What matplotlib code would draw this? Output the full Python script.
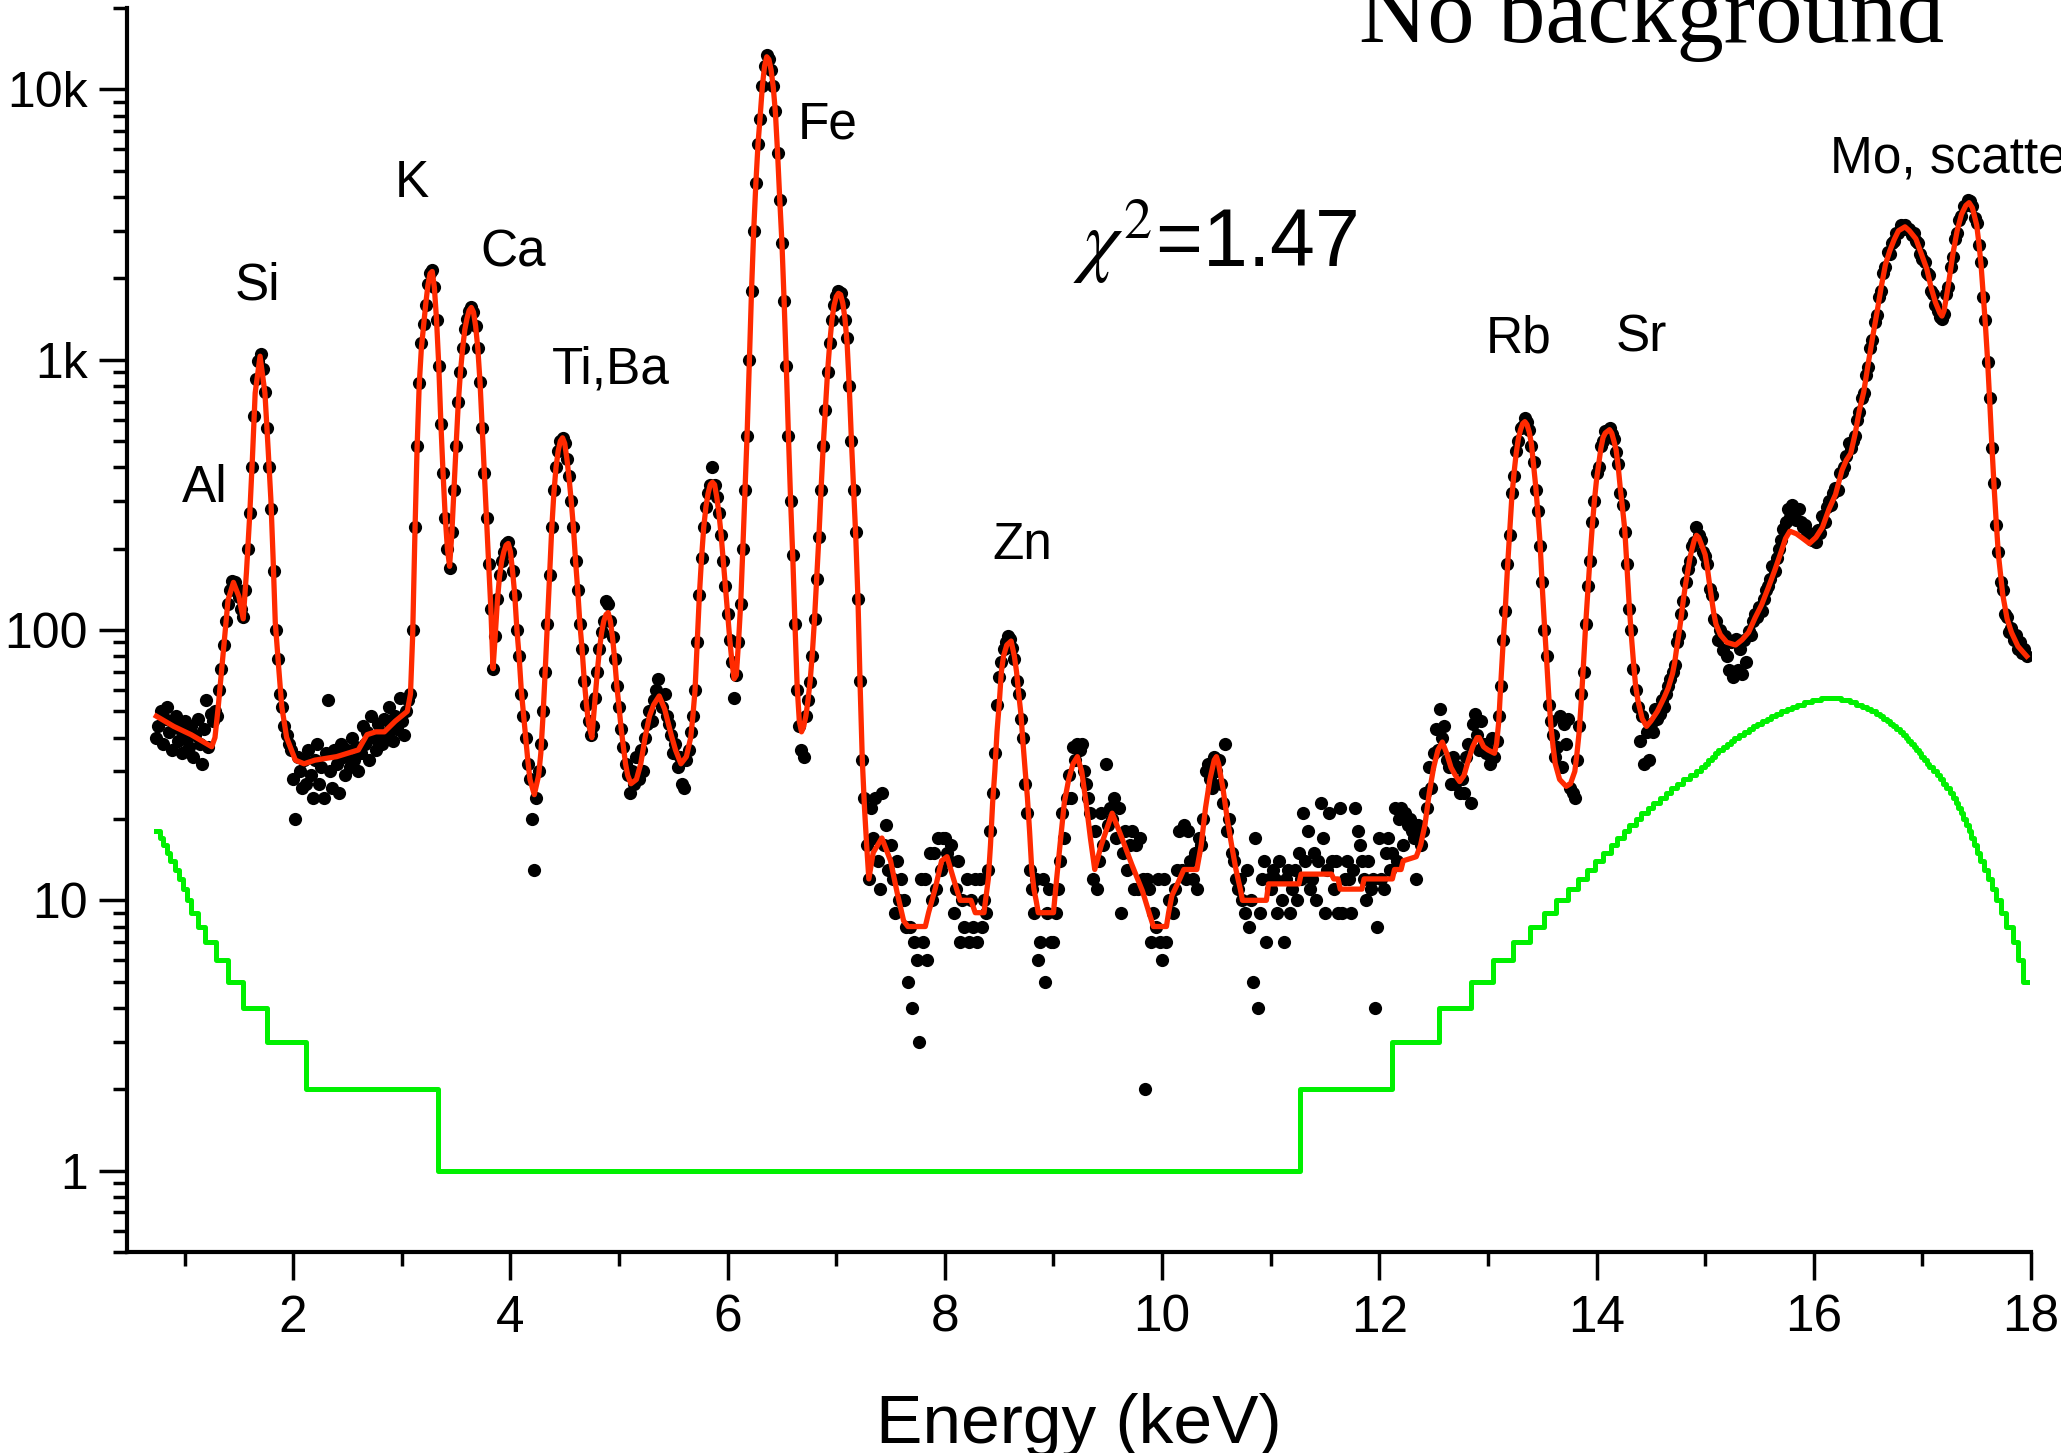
import numpy as np
import matplotlib
matplotlib.use("Agg")
import matplotlib.pyplot as plt
from matplotlib import font_manager
from matplotlib.ticker import FixedLocator, FixedFormatter, LogLocator, NullFormatter

# measured spectrum, 20 eV channels starting at 0.74 keV
counts = [
    40, 44, 50, 38, 47, 52, 42, 36, 45, 48, 39, 43, 35,  # 0.74
    46, 40, 37, 44, 34, 41, 47, 38, 32, 43, 55, 37, 49, 46, 50, 48, 60, 72, 88, 108,  # 1.00
    125, 140, 152, 150, 140, 132, 120, 112, 140, 200, 270, 400, 620, 850, 990, 1050, 920, 760, 560, 400,
    280, 165, 100, 78, 58, 52, 44, 41, 38, 36,
    28, 20, 34, 30, 26, 33, 27, 36, 29, 24, 33, 38, 27, 31, 24, 35, 55, 30, 26, 36,  # 2.00
    32, 25, 38, 34, 29, 36, 31, 40, 33, 37, 30, 35, 44, 38, 42, 33, 48, 40, 36, 45,
    42, 38, 47, 41, 52, 44, 39, 48, 43, 56,
    46, 41, 50, 55, 58, 100, 240, 480, 820, 1150, 1350, 1600, 1900, 2100, 2150, 1850, 1400, 950, 580, 380,  # 3.00
    260, 200, 170, 230, 330, 480, 700, 900, 1100, 1300, 1420, 1520, 1560, 1500, 1330, 1100, 830, 560, 380, 260,
    175, 120, 72, 95, 130, 160, 180, 195, 208, 212,
    195, 165, 135, 100, 80, 58, 48, 40, 32, 28, 20, 13, 24, 30, 38, 50, 70, 105, 160, 240,  # 4.00
    330, 400, 460, 500, 515, 490, 430, 370, 300, 240, 180, 140, 105, 85, 65, 53, 46, 41, 44, 56,
    70, 85, 98, 108, 128, 125, 108, 94, 78, 62,
    52, 43, 37, 32, 29, 25, 30, 27, 34, 28, 36, 30, 40, 45, 50, 46, 55, 60, 66, 57,  # 5.00
    52, 58, 48, 45, 41, 35, 38, 31, 34, 27, 26, 33, 36, 42, 48, 60, 90, 135, 185, 240,
    285, 320, 345, 400, 345, 310, 270, 225, 180, 145,
    115, 92, 76, 56, 68, 90, 125, 200, 330, 520, 1000, 1800, 3000, 4500, 6300, 7800, 10300, 12200, 13400, 12900,  # 6.00
    11800, 10300, 8300, 5800, 3900, 2700, 1650, 950, 520, 300, 190, 105, 60, 44, 36, 34, 48, 55, 64, 80,
    110, 155, 220, 330, 480, 650, 900, 1150, 1400, 1600,
    1720, 1800, 1760, 1620, 1400, 1200, 800, 500, 330, 230, 130, 65, 33, 24, 16, 12, 22, 17, 24, 14,  # 7.00
    11, 25, 16, 19, 13, 16, 12, 9, 14, 10, 12, 10, 8, 5, 8, 4, 7, 6, 3, 12,
    7, 12, 6, 15, 10, 15, 11, 17, 13, 17,
    17, 15, 14, 16, 9, 11, 14, 7, 10, 8, 12, 7, 10, 8, 12, 7, 12, 8, 10, 9,  # 8.00
    13, 18, 25, 35, 53, 67, 76, 85, 90, 95, 93, 86, 78, 65, 58, 47, 40, 27, 21, 13,
    11, 9, 12, 6, 7, 12, 5, 9, 11, 7,
    7, 9, 11, 14, 21, 17, 24, 29, 24, 37, 33, 38, 36, 38, 30, 27, 24, 21, 12, 18,  # 9.00
    11, 14, 21, 16, 32, 19, 22, 20, 24, 17, 22, 9, 15, 18, 13, 16, 18, 11, 16, 11,
    17, 12, 2, 12, 11, 7, 9, 8, 12, 7,
    6, 12, 7, 10, 10, 9, 11, 13, 18, 13, 19, 12, 18, 14, 12, 15, 11, 17, 16, 20,  # 10.00
    30, 32, 28, 26, 34, 30, 33, 27, 23, 38, 18, 20, 15, 14, 12, 11, 12, 10, 9, 13,
    8, 10, 5, 17, 4, 9, 12, 14, 7, 12,
    11, 13, 12, 9, 14, 10, 7, 12, 13, 9, 11, 13, 10, 15, 12, 21, 14, 18, 11, 12,  # 11.00
    15, 10, 14, 23, 17, 9, 13, 21, 14, 11, 14, 9, 22, 9, 12, 14, 12, 9, 13, 22,
    18, 16, 14, 12, 10, 14, 11, 12, 4, 8,
    17, 12, 11, 15, 17, 13, 15, 22, 14, 20, 22, 16, 21, 19, 20, 18, 17, 12, 19, 16,  # 12.00
    18, 25, 22, 31, 26, 35, 43, 36, 51, 40, 44, 33, 31, 27, 34, 27, 31, 25, 28, 25,
    34, 38, 23, 45, 49, 41, 36, 46, 38, 35,
    36, 32, 40, 34, 39, 48, 62, 92, 118, 175, 225, 320, 370, 460, 500, 560, 570, 610, 590, 550,  # 13.00
    480, 420, 330, 275, 205, 150, 100, 80, 53, 46, 41, 34, 37, 48, 31, 45, 38, 47, 26, 25,
    24, 33, 44, 58, 70, 105, 145, 180, 250, 300,
    380, 400, 480, 500, 545, 540, 560, 530, 510, 455, 410, 320, 290, 230, 175, 120, 100, 72, 60, 52,  # 14.00
    39, 48, 32, 42, 33, 45, 42, 51, 47, 49, 55, 52, 58, 62, 66, 70, 74, 90, 96, 115,
    128, 150, 168, 180, 205, 212, 240, 225, 215, 195,
    188, 175, 142, 135, 110, 108, 92, 100, 84, 95, 80, 71, 90, 67, 93, 71, 85, 69, 92, 76,  # 15.00
    99, 96, 108, 115, 112, 122, 118, 130, 140, 146, 155, 173, 165, 185, 199, 215, 236, 250, 281, 262,
    290, 270, 255, 281, 250, 240, 245, 225, 228, 215,
    222, 212, 235, 228, 265, 250, 285, 300, 290, 320, 335, 330, 380, 385, 400, 440, 490, 470, 500, 520,  # 16.00
    600, 640, 720, 750, 880, 940, 1100, 1180, 1380, 1460, 1700, 1800, 2100, 2200, 2500, 2450, 2700, 2750, 2950, 2950,
    3150, 3050, 3150, 3050, 3050, 2900, 2950, 2750, 2700, 2450,
    2350, 2300, 2100, 2050, 1800, 1750, 1600, 1520, 1440, 1420, 1480, 1750, 1850, 2200, 2400, 2800, 2950, 3300, 3400, 3700,  # 17.00
    3750, 3900, 3850, 3700, 3350, 3200, 2650, 2300, 1700, 1400, 980, 720, 470, 350, 245, 195, 150, 140, 115, 112,
    98, 102, 92, 96, 85, 90, 82, 85, 80,
]

# fitted curve (red)
fit_e = [0.74, 0.90, 1.06, 1.20, 1.25, 1.28, 1.31, 1.34, 1.37, 1.40, 1.45, 1.50, 1.54, 1.57, 1.60, 1.625, 1.65, 1.695,
         1.74, 1.77, 1.795, 1.815, 1.835, 1.865, 1.895, 1.94, 2.02, 2.10, 2.20, 2.40, 2.60, 2.68, 2.76, 2.84, 2.94,
         3.05, 3.08, 3.10, 3.12, 3.14, 3.16, 3.18, 3.20, 3.22, 3.24, 3.26, 3.28, 3.30, 3.32, 3.34, 3.36, 3.38, 3.40,
         3.42, 3.44, 3.46, 3.48, 3.50, 3.52, 3.54, 3.56, 3.58, 3.60, 3.62, 3.64, 3.66, 3.68, 3.70, 3.72, 3.74, 3.76,
         3.78, 3.80, 3.82, 3.84, 3.86, 3.88, 3.90, 3.92, 3.94, 3.96, 3.98, 4.00, 4.02, 4.04, 4.06, 4.08, 4.10, 4.12,
         4.14, 4.16, 4.18, 4.22, 4.26, 4.28, 4.30, 4.32, 4.34, 4.36, 4.38, 4.40, 4.42, 4.44, 4.46, 4.48, 4.50, 4.52,
         4.54, 4.56, 4.58, 4.60, 4.62, 4.64, 4.66, 4.68, 4.70, 4.72, 4.75, 4.78, 4.80, 4.82, 4.84, 4.86, 4.88, 4.90,
         4.92, 4.94, 4.96, 4.98, 5.00, 5.02, 5.04, 5.06, 5.08, 5.11, 5.16, 5.20, 5.24, 5.28, 5.32, 5.37, 5.42, 5.48,
         5.52, 5.57, 5.62, 5.66, 5.68, 5.70, 5.72, 5.74, 5.76, 5.78, 5.80, 5.82, 5.84, 5.86, 5.88, 5.90, 5.92, 5.94,
         5.96, 5.98, 6.00, 6.02, 6.04, 6.06, 6.08, 6.10, 6.12, 6.14, 6.16, 6.18, 6.20, 6.22, 6.24, 6.26, 6.28, 6.30,
         6.32, 6.34, 6.36, 6.38, 6.40, 6.42, 6.44, 6.46, 6.48, 6.50, 6.52, 6.54, 6.56, 6.58, 6.60, 6.62, 6.64, 6.66,
         6.68, 6.70, 6.72, 6.74, 6.76, 6.78, 6.80, 6.82, 6.84, 6.86, 6.88, 6.90, 6.92, 6.94, 6.96, 6.98, 7.00, 7.02,
         7.04, 7.06, 7.08, 7.10, 7.12, 7.14, 7.16, 7.18, 7.20, 7.22, 7.24, 7.26, 7.28, 7.30, 7.34, 7.42, 7.50, 7.56,
         7.62, 7.66, 7.82, 7.85, 7.91, 7.97, 8.02, 8.08, 8.14, 8.24, 8.28, 8.36, 8.40, 8.42, 8.44, 8.46, 8.48, 8.50,
         8.52, 8.54, 8.57, 8.61, 8.64, 8.66, 8.68, 8.70, 8.72, 8.74, 8.76, 8.78, 8.80, 8.82, 8.84, 8.86, 9.00, 9.02,
         9.06, 9.10, 9.14, 9.18, 9.22, 9.26, 9.30, 9.34, 9.38, 9.44, 9.54, 9.63, 9.72, 9.82, 9.88, 9.92, 10.04, 10.06,
         10.09, 10.15, 10.20, 10.32, 10.36, 10.40, 10.44, 10.48, 10.50, 10.52, 10.56, 10.60, 10.64, 10.68, 10.72,
         10.74, 10.96, 10.98, 11.26, 11.28, 11.56, 11.58, 11.62, 11.64, 11.84, 11.86, 12.12, 12.14, 12.20, 12.22,
         12.34, 12.38, 12.42, 12.46, 12.50, 12.54, 12.58, 12.62, 12.66, 12.70, 12.74, 12.78, 12.82, 12.86, 12.90,
         12.92, 12.96, 13.00, 13.06, 13.08, 13.10, 13.12, 13.14, 13.16, 13.18, 13.20, 13.22, 13.24, 13.26, 13.28,
         13.30, 13.32, 13.34, 13.36, 13.38, 13.40, 13.42, 13.44, 13.46, 13.48, 13.50, 13.52, 13.54, 13.56, 13.58,
         13.60, 13.62, 13.66, 13.72, 13.76, 13.80, 13.82, 13.84, 13.86, 13.88, 13.90, 13.92, 13.94, 13.96, 13.98,
         14.00, 14.02, 14.04, 14.06, 14.08, 14.12, 14.14, 14.16, 14.18, 14.20, 14.22, 14.24, 14.26, 14.28, 14.30,
         14.32, 14.34, 14.36, 14.38, 14.42, 14.46, 14.50, 14.56, 14.62, 14.66, 14.70, 14.72, 14.74, 14.76, 14.78,
         14.80, 14.82, 14.84, 14.86, 14.88, 14.90, 14.92, 14.94, 14.96, 14.98, 15.00, 15.02, 15.04, 15.06, 15.08,
         15.10, 15.14, 15.20, 15.28, 15.34, 15.40, 15.46, 15.52, 15.58, 15.64, 15.70, 15.74, 15.78, 15.84, 15.90,
         15.96, 16.02, 16.08, 16.14, 16.20, 16.26, 16.30, 16.34, 16.38, 16.42, 16.46, 16.50, 16.54, 16.58, 16.62,
         16.66, 16.70, 16.74, 16.78, 16.84, 16.88, 16.94, 17.00, 17.04, 17.08, 17.12, 17.16, 17.18, 17.20, 17.24,
         17.28, 17.32, 17.36, 17.40, 17.43, 17.46, 17.50, 17.52, 17.54, 17.56, 17.58, 17.60, 17.62, 17.64, 17.66,
         17.68, 17.70, 17.74, 17.78, 17.82, 17.88, 17.96]
fit_v = [48, 44, 41, 38, 37, 40, 52, 70, 95, 129, 150, 133, 110, 164, 267, 435, 753, 1030,
         753, 462, 302, 185, 107, 74, 52, 40, 33, 32, 33, 34, 36, 41, 42, 42, 46,
         50, 58, 95, 220, 460, 800, 1100, 1330, 1600, 1880, 2080, 2120, 1850, 1400, 960, 580, 380, 262,
         200, 172, 225, 330, 480, 690, 900, 1100, 1290, 1420, 1520, 1560, 1500, 1330, 1100, 830, 560, 380,
         260, 175, 120, 72, 95, 128, 158, 180, 195, 206, 209, 195, 165, 135, 100, 80, 60, 49,
         40, 33, 28, 24.6, 29, 35, 48, 70, 105, 160, 235, 320, 400, 460, 500, 514, 490, 430,
         365, 300, 240, 180, 140, 105, 85, 65, 53, 45, 40, 56, 70, 85, 98, 108, 114, 116,
         108, 94, 78, 62, 52, 43, 37, 32, 29, 27, 28, 32, 40, 48, 53, 57, 51, 41,
         36, 32, 34, 40, 48, 60, 90, 135, 185, 240, 285, 320, 345, 352, 345, 310, 270, 225,
         180, 145, 115, 92, 76, 66, 68, 90, 125, 200, 330, 540, 1000, 1800, 3000, 4500, 6300, 8000,
         10300, 12200, 13200, 12900, 11800, 10200, 8200, 5800, 3900, 2700, 1650, 950, 520, 300, 185, 105, 62, 46,
         42, 44, 48, 55, 65, 82, 110, 155, 220, 330, 480, 660, 900, 1150, 1400, 1590, 1710, 1760,
         1740, 1620, 1420, 1150, 790, 500, 330, 220, 130, 62, 33, 22, 16, 12, 15, 17, 14, 10.7,
         8.4, 8, 8, 9, 11, 14, 14.5, 12, 10, 10, 9, 9, 12, 16, 23, 30, 42, 53,
         70, 80, 88, 91, 80, 70, 58, 49, 38, 30, 24, 18, 13, 11, 10, 9, 9, 11,
         16, 23, 28, 32, 34, 30, 23, 17, 13, 16, 21, 17, 13.6, 10.8, 9, 8, 8, 9,
         10.4, 11.7, 13, 13, 16, 22, 28, 33, 34, 32, 26, 20, 16, 13, 11,
         10, 10, 11.5, 11.5, 12.5, 12.5, 12, 12, 11, 11, 12, 12, 13, 13, 14,
         14.5, 16, 19, 25, 31, 36, 38.5, 35, 31, 29, 27.5, 29, 33, 37, 40,
         40, 37, 36, 35, 38, 46, 65, 90, 120, 170, 230, 310, 380, 450, 510,
         550, 580, 590, 575, 540, 490, 410, 340, 270, 210, 145, 105, 78, 57, 44,
         37, 32, 28, 26.4, 27, 30, 35, 42, 55, 75, 105, 140, 185, 240, 300,
         360, 410, 470, 515, 535, 551, 535, 500, 464, 400, 330, 280, 235, 170, 125,
         96, 76, 62, 55, 47, 44, 46, 50, 56, 61, 69, 76, 87, 98, 112,
         130, 148, 165, 185, 200, 215, 224, 220, 210, 200, 190, 170, 148, 130, 115,
         105, 96, 90, 88, 92, 98, 111, 124, 143, 166, 195, 218, 232, 227, 218,
         209, 220, 240, 280, 317, 390, 425, 450, 530, 650, 760, 960, 1200, 1480, 1850,
         2250, 2530, 2780, 3000, 3100, 3000, 2800, 2400, 2170, 1850, 1630, 1490, 1450, 1520, 1900,
         2450, 3000, 3450, 3720, 3810, 3650, 3150, 2700, 2250, 1750, 1350, 1000, 700, 480, 340,
         250, 190, 135, 110, 98, 87, 80]

# background (green), integer steps: level starts at bg_e[i]
bg_e = [0.74, 0.77, 0.80, 0.84, 0.87, 0.91, 0.95, 0.99, 1.02, 1.06, 1.12, 1.19, 1.29, 1.40, 1.54, 1.76, 2.12,
        3.33, 11.27, 12.12, 12.55, 12.84, 13.05, 13.23, 13.39, 13.52, 13.63, 13.735, 13.83, 13.91, 13.99,
        14.06, 14.13, 14.19, 14.25, 14.30, 14.36, 14.41, 14.47, 14.52, 14.58, 14.64, 14.69, 14.74, 14.80,
        14.86, 14.92, 14.96, 15.00, 15.03, 15.06, 15.09, 15.12, 15.16, 15.20, 15.24, 15.27, 15.31, 15.36,
        15.40, 15.44, 15.48, 15.52, 15.57, 15.61, 15.65, 15.70, 15.75, 15.80, 15.85, 15.91, 15.98, 16.07,
        16.25, 16.33, 16.39, 16.44, 16.49, 16.53, 16.57, 16.61, 16.64, 16.67, 16.70, 16.73, 16.76, 16.79,
        16.82, 16.845, 16.87, 16.895, 16.92, 16.945, 16.97, 16.99, 17.015, 17.04, 17.065, 17.10, 17.13,
        17.16, 17.19, 17.22, 17.25, 17.28, 17.31, 17.33, 17.355, 17.375, 17.40, 17.425, 17.45, 17.475,
        17.50, 17.53, 17.565, 17.60, 17.64, 17.68, 17.72, 17.77, 17.83, 17.88, 17.93, 17.96]
bg_v = [18, 17, 16, 15, 14, 13, 12, 11, 10, 9, 8, 7, 6, 5, 4, 3, 2,
        1, 2, 3, 4, 5, 6, 7, 8, 9, 10, 11, 12, 13, 14,
        15, 16, 17, 18, 19, 20, 21, 22, 23, 24, 25, 26, 27, 28,
        29, 30, 31, 32, 33, 34, 35, 36, 37, 38, 39, 40, 41, 42,
        43, 44, 45, 46, 47, 48, 49, 50, 51, 52, 53, 54, 55, 56,
        55, 54, 53, 52, 51, 50, 49, 48, 47, 46, 45, 44, 43, 42,
        41, 40, 39, 38, 37, 36, 35, 34, 33, 32, 31, 30, 29,
        28, 27, 26, 25, 24, 23, 22, 21, 20, 19, 18, 17, 16,
        15, 14, 13, 12, 11, 10, 9, 8, 7, 6, 5, 5]

peak_labels = ["Al", "Si", "K", "Ca", "Ti,Ba", "Fe", "Zn", "Rb", "Sr"]
peak_x = [1.19, 1.67, 3.09, 4.03, 4.92, 6.92, 8.71, 13.28, 14.41]
peak_y = [297, 1665, 3990, 2204, 813, 6607, 183, 1063, 1076]

xticks = [2, 4, 6, 8, 10, 12, 14, 16, 18]
yticks = [1, 10, 100, 1000, 10000]
ytick_labels = ["1", "10", "100", "1k", "10k"]

plt.rcParams['font.family'] = ['Liberation Sans', 'DejaVu Sans']
plt.rcParams['mathtext.fontset'] = 'stix'

installed = {f.name for f in font_manager.fontManager.ttflist}
if 'Liberation Sans Narrow' in installed:
    narrow = ['Liberation Sans Narrow', 'DejaVu Sans']
    xt_size, xl_size = 40, 58
else:
    narrow = ['Liberation Sans', 'DejaVu Sans']
    xt_size, xl_size = 37, 50

fig = plt.figure(figsize=(20.61, 14.53), dpi=100)
ax = fig.add_axes([127 / 2061, 201 / 1453, 1904 / 2061, 1244 / 1453])

energy = 0.74 + 0.02 * np.arange(len(counts))

ax.step(bg_e, bg_v, where='post', color='#00f000', lw=3.6, zorder=2)
ax.plot(energy, counts, 'o', color='black', ms=9.5, mew=0, zorder=3)
ax.plot(fit_e, fit_v, color='#ff2a00', lw=3.8, zorder=4)

ax.set_yscale('log')
ax.set_xlim(0.47, 18.0)
ax.set_ylim(0.5, 2e4)

for side in ['top', 'right']:
    ax.spines[side].set_visible(False)
for side in ['left', 'bottom']:
    ax.spines[side].set_linewidth(3)

ax.set_xticks(xticks, [str(t) for t in xticks], fontsize=xt_size, family=narrow)
ax.set_xticks(list(range(1, 18, 2)), minor=True)
ax.yaxis.set_major_locator(FixedLocator(yticks))
ax.yaxis.set_major_formatter(FixedFormatter(ytick_labels))
ax.yaxis.set_minor_locator(LogLocator(base=10, subs=np.arange(2, 10), numticks=30))
ax.yaxis.set_minor_formatter(NullFormatter())
ax.tick_params(which='major', direction='out', length=20, width=2.5)
ax.tick_params(which='minor', direction='out', length=10, width=2.5)
ax.tick_params(axis='y', labelsize=36, pad=8)
ax.tick_params(axis='x', pad=10)

ax.set_xlabel("Energy (keV)", fontsize=xl_size, family=narrow, labelpad=36)

for lab, x, y in zip(peak_labels, peak_x, peak_y):
    ax.text(x, y, lab, fontsize=37, ha='center', va='baseline')
ax.text(16.15, 4935, "Mo, scattered", fontsize=37, ha='left', va='baseline')
ax.text(9.18, 2204, r"$\chi^{2}$=1.47", fontsize=58, ha='left', va='baseline')
ax.text(11.81, 14970, "No background", fontsize=68, family=['Liberation Serif', 'DejaVu Serif'],
        ha='left', va='baseline', clip_on=False)

fig.savefig("out.png", dpi=100)
